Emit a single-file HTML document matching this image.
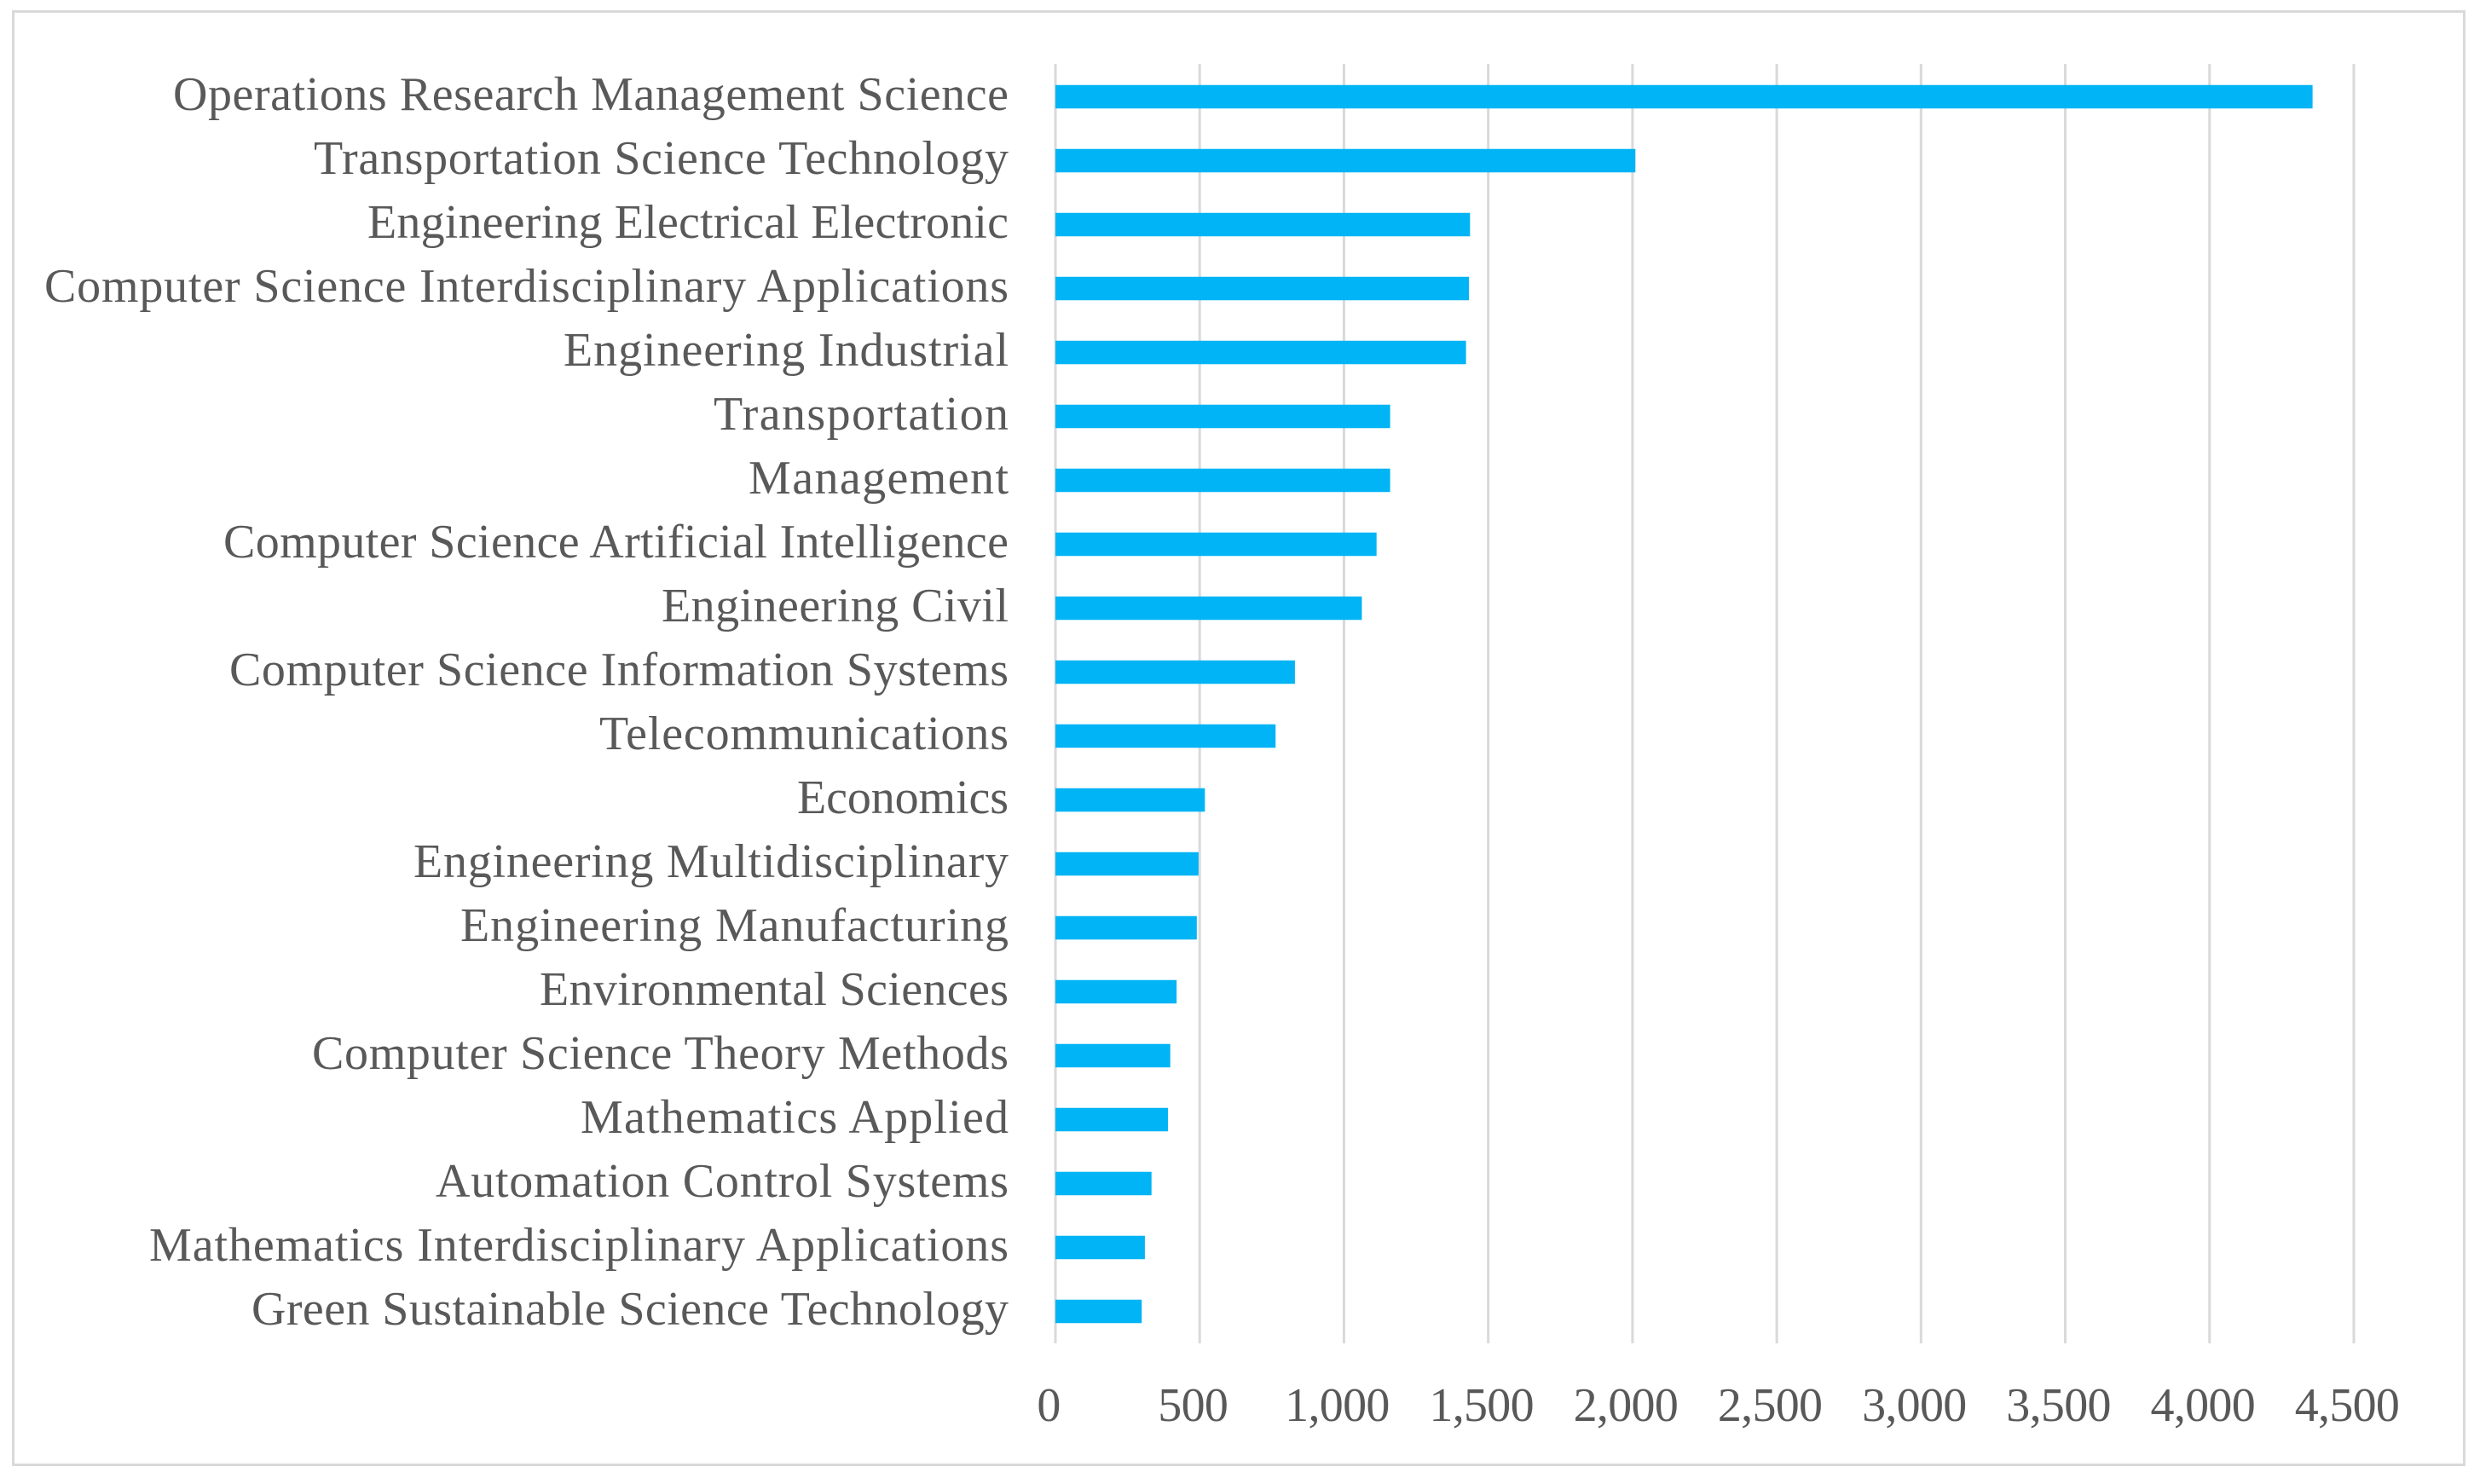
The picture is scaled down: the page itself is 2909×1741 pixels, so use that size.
<!DOCTYPE html>
<html lang="en">
<head>
<meta charset="utf-8">
<title>Publications by research area</title>
<style>
html,body{margin:0;padding:0;background:#fff;width:2909px;height:1741px;overflow:hidden}
svg{display:block}
text{font-family:"Liberation Serif",serif;fill:#595959}
</style>
</head>
<body>
<svg id="chart" xmlns="http://www.w3.org/2000/svg" width="2909" height="1741" viewBox="0 0 2909 1741">
  <rect x="15.5" y="13.5" width="2875" height="1705" fill="#ffffff" stroke="#d9d9d9" stroke-width="3"/>
  <g id="grid"></g>
  <g id="bars"></g>
  <g id="cats"></g>
  <g id="ticks"></g>
</svg>
<script>
const categories = ["Operations Research Management Science","Transportation Science Technology","Engineering Electrical Electronic","Computer Science Interdisciplinary Applications","Engineering Industrial","Transportation","Management","Computer Science Artificial Intelligence","Engineering Civil","Computer Science Information Systems","Telecommunications","Economics","Engineering Multidisciplinary","Engineering Manufacturing","Environmental Sciences","Computer Science Theory Methods","Mathematics Applied","Automation Control Systems","Mathematics Interdisciplinary Applications","Green Sustainable Science Technology"];
const values = [4357,2010,1437,1433,1423,1160,1160,1113,1062,830,763,518,496,490,420,398,390,333,310,299];
const tickValues = [0,500,1000,1500,2000,2500,3000,3500,4000,4500];

const NS = "http://www.w3.org/2000/svg";
const plot = {left:1238, right:2761, top:76, bottom:1576, max:4500};
const xScale = v => plot.left + (v / plot.max) * (plot.right - plot.left);
const band = (plot.bottom - plot.top) / categories.length;
const yCenter = i => plot.top + band * (i + 0.5);
const barHeight = 27.5;
const FONT = 56;
/* Substitute-font correction: rendered width of each label, keyed by its text. */
const labelFit = {"Operations Research Management Science":980,"Transportation Science Technology":815,"Engineering Electrical Electronic":752,"Computer Science Interdisciplinary Applications":1131,"Engineering Industrial":522,"Transportation":346,"Management":305,"Computer Science Artificial Intelligence":921,"Engineering Civil":407,"Computer Science Information Systems":914,"Telecommunications":480,"Economics":248,"Engineering Multidisciplinary":698,"Engineering Manufacturing":643,"Environmental Sciences":550,"Computer Science Theory Methods":817,"Mathematics Applied":502,"Automation Control Systems":672,"Mathematics Interdisciplinary Applications":1008,"Green Sustainable Science Technology":888};

function make(tag, attrs, parent) {
  const el = document.createElementNS(NS, tag);
  for (const k in attrs) el.setAttribute(k, attrs[k]);
  parent.appendChild(el);
  return el;
}

const gridG = document.getElementById("grid");
tickValues.forEach(t => {
  const line = make("line", {x1:xScale(t), x2:xScale(t), y1:plot.top - 1, y2:plot.bottom, stroke:"#d9d9d9", "stroke-width":3}, gridG);
  
  
});

const barsG = document.getElementById("bars");
values.forEach((v, i) => {
  const bar = make("rect", {x:xScale(0), y:yCenter(i) - barHeight / 2, width:xScale(v) - xScale(0), height:barHeight, fill:"#00b4f5"}, barsG);
  
  
});

const catsG = document.getElementById("cats");
categories.forEach((c, i) => {
  const label = make("text", {x:1183, y:yCenter(i) + 15.5, "text-anchor":"end", "font-size":FONT, textLength:labelFit[c], lengthAdjust:"spacing"}, catsG);
  label.textContent = c;
  
  
});

const ticksG = document.getElementById("ticks");
tickValues.forEach(t => {
  const label = make("text", {x:xScale(t) - 8, y:1667, "text-anchor":"middle", "font-size":FONT, "letter-spacing":-0.7}, ticksG);
  label.textContent = t.toLocaleString("en-US");
  
  
});
</script>
</body>
</html>
